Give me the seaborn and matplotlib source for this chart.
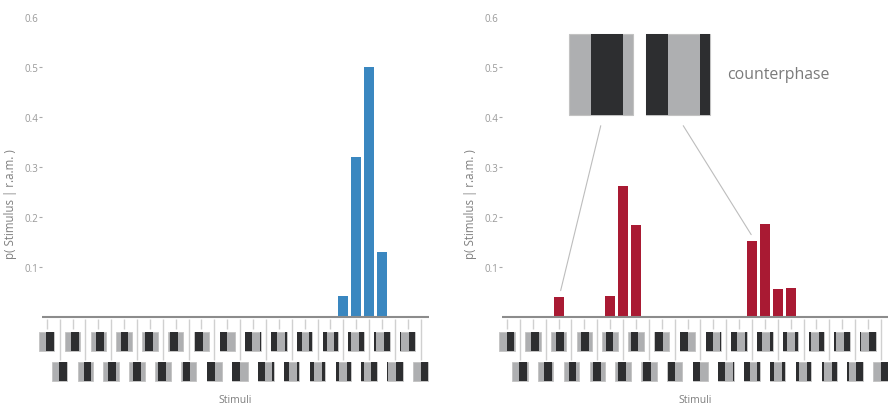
import numpy as np
import pandas as pd
import seaborn as sns
import matplotlib.pyplot as plt
from matplotlib.patches import Rectangle

# 30 grating stimuli, shown as icons under the x axis
stimuli = list(range(30))
# start of the dark half-period in each icon (fraction of the icon width)
phases = [0.48, 0.45, 0.41, 0.38, 0.35, 0.31, 0.28, 0.25, 0.21, 0.18,
          0.15, 0.11, 0.08, 0.05, 0.01, 0.98, 0.95, 0.91, 0.88, 0.85,
          0.81, 0.78, 0.75, 0.71, 0.68, 0.65, 0.61, 0.58, 0.55, 0.51]

p_left = [0, 0, 0, 0, 0, 0, 0, 0, 0, 0,
          0, 0, 0, 0, 0, 0, 0, 0, 0, 0,
          0, 0, 0, 0.043, 0.32, 0.50, 0.13, 0, 0, 0]
p_right = [0, 0, 0, 0, 0.040, 0, 0, 0, 0.042, 0.263,
           0.185, 0, 0, 0, 0, 0, 0, 0, 0, 0.153,
           0.187, 0.057, 0.058, 0, 0, 0, 0, 0, 0, 0]

yticks = [0.1, 0.2, 0.3, 0.4, 0.5, 0.6]
inset_stimuli = [4, 19]
inset_text = 'counterphase'

LIGHT = '#aeafb1'
DARK = '#2d2e30'
BLUE = '#3a87c0'
RED = '#a91a33'
TXT = '#7f7f7f'

sns.set_style('white')
plt.rcParams['font.family'] = ['Open Sans', 'DejaVu Sans']


def draw_icon(ax, x0, y0, w, h, phase, lw=0.6):
    ax.add_patch(Rectangle((x0, y0), w, h, fc=LIGHT, ec='#c2c2c2', lw=lw,
                           clip_on=False, zorder=3))
    a, b = phase, phase + 0.5
    segs = [(a, b)] if b <= 1 else [(a, 1), (0, b - 1)]
    for s, e in segs:
        ax.add_patch(Rectangle((x0 + s * w, y0), (e - s) * w, h, fc=DARK,
                               ec='none', clip_on=False, zorder=4))


def panel(ax, probs, color):
    df = pd.DataFrame({'stimulus': stimuli, 'p': probs})
    sns.barplot(data=df, x='stimulus', y='p', order=stimuli, color=color,
                width=0.78, linewidth=0, saturation=1, ax=ax, zorder=3)
    ax.set_xlim(-0.39, 29.64)
    ax.set_ylim(-0.145, 0.6)
    sns.despine(ax=ax, left=True, bottom=True)
    ax.set_xticks([])
    ax.axhline(0, color='#8c8c8c', lw=1.5, zorder=4)

    # tick lines and stimulus icons, alternating between two rows
    for k in stimuli:
        top = k % 2 == 0
        ax.vlines(k, -0.004, -0.023 if top else -0.086, color='#d0d0d0',
                  lw=1, zorder=1)
        y0 = -0.068 if top else -0.128
        draw_icon(ax, k - 0.6, y0, 1.2, 0.038, phases[k])

    ax.set_yticks(yticks)
    ax.set_yticklabels([f'{t:.1f}' for t in yticks], fontsize=7, color='#999999')
    ax.tick_params(axis='y', length=2.2, width=0.8, color='#aaaaaa', pad=0.5,
                   left=True)
    ax.yaxis.get_major_ticks()[-1].tick1line.set_visible(False)
    ax.set_ylabel('p( Stimulus | r.a.m. )', fontsize=8.3, color=TXT, labelpad=5)
    ax.set_xlabel('Stimuli', fontsize=7.5, color=TXT, labelpad=3)


fig = plt.figure(figsize=(8.88, 4.06), dpi=100)
ax1 = fig.add_axes([0.047, 0.038, 0.436, 0.917])
ax2 = fig.add_axes([0.5653, 0.038, 0.436, 0.917])

panel(ax1, p_left, BLUE)
panel(ax2, p_right, RED)

# enlarged icons of the two counterphase stimuli
for x0, k in zip([4.82, 10.79], inset_stimuli):
    draw_icon(ax2, x0, 0.405, 4.92, 0.162, phases[k], lw=0.8)
ax2.plot([7.27, 4.16], [0.383, 0.053], color='#bdbdbd', lw=0.8, zorder=2)
ax2.plot([13.67, 18.94], [0.383, 0.165], color='#bdbdbd', lw=0.8, zorder=2)
ax2.text(17.08, 0.487, inset_text, fontsize=11.4, color='#7a7a7a',
         ha='left', va='center')

fig.savefig('out.png', dpi=100)
